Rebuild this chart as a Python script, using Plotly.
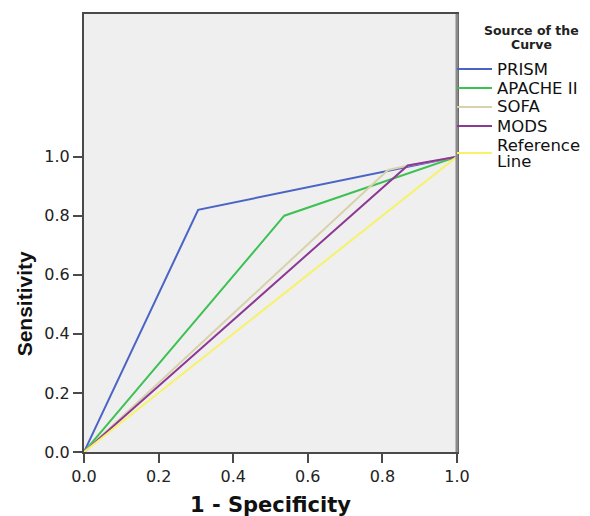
import plotly.graph_objects as go

# ROC curve points (1 - specificity, sensitivity)
curve_names = ["PRISM", "APACHE II", "SOFA", "MODS", "Reference Line"]
prism_x = [0.0, 0.306, 1.0]
prism_y = [0.0, 0.82, 1.0]
apache_x = [0.0, 0.537, 1.0]
apache_y = [0.0, 0.80, 1.0]
sofa_x = [0.0, 0.815, 0.87, 1.0]
sofa_y = [0.0, 0.955, 0.97, 1.0]
mods_x = [0.0, 0.868, 1.0]
mods_y = [0.0, 0.97, 1.0]
ref_x = [0.0, 1.0]
ref_y = [0.0, 1.0]
tick_vals = [0.0, 0.2, 0.4, 0.6, 0.8, 1.0]

colors = ["#4a64c6", "#3dc152", "#d8d2aa", "#8d3893", "#f6f26c"]
series = [(prism_x, prism_y), (apache_x, apache_y), (sofa_x, sofa_y),
          (mods_x, mods_y), (ref_x, ref_y)]

W, H = 590, 516
L, R, T, B = 84, 133, 14, 64
pw, ph = W - L - R, H - T - B


def px_x(px):
    return (px - L) / pw


def px_y(py):
    return (H - B - py) / ph


fig = go.Figure()
for name, (xs, ys), c in zip(curve_names, series, colors):
    fig.add_trace(go.Scatter(x=xs, y=ys, mode="lines", name=name,
                             line=dict(color=c, width=2), showlegend=False))

axis_font = dict(family="DejaVu Sans", size=16, color="#222")
common = dict(tickvals=tick_vals, tickformat=".1f", showgrid=False, zeroline=False,
              showline=True, mirror=True, linecolor="#4a4a4a", linewidth=2,
              ticks="outside", ticklen=9, tickwidth=2, tickcolor="#4a4a4a",
              tickfont=axis_font)
fig.update_xaxes(range=[0, 1], **common)
fig.update_yaxes(range=[0, 1.483], **common)

# lighter, heavier right frame edge as in the SPSS output
fig.add_shape(type="line", xref="paper", yref="paper", x0=1, x1=1, y0=0, y1=1,
              line=dict(color="#8a8a8a", width=3))

fig.add_annotation(text="<b>1 - Specificity</b>", xref="paper", yref="paper",
                   x=0.5, y=0, xanchor="center", yanchor="middle", yshift=-53,
                   showarrow=False,
                   font=dict(family="DejaVu Sans", size=21, color="#111"))
fig.add_annotation(text="<b>Sensitivity</b>", xref="paper", yref="y",
                   x=0, y=0.5, xanchor="center", yanchor="middle", xshift=-60,
                   textangle=-90, showarrow=False,
                   font=dict(family="Liberation Sans, Arial", size=21, color="#111"))

# legend drawn by hand to match the SPSS layout
title_font = dict(family="DejaVu Sans", size=12.5, color="#222")
for txt, py in [("<b>Source of the</b>", 30), ("<b>Curve</b>", 44)]:
    fig.add_annotation(text=txt, xref="paper", yref="paper", x=px_x(531), y=px_y(py),
                       xanchor="center", yanchor="middle", showarrow=False,
                       font=title_font)

leg_font = dict(family="DejaVu Sans", size=16.5, color="#111")
leg_rows = [69, 88, 107, 126, 153]
for name, c, py in zip(curve_names, colors, leg_rows):
    fig.add_shape(type="line", xref="paper", yref="paper",
                  x0=px_x(457), x1=px_x(492), y0=px_y(py), y1=px_y(py),
                  line=dict(color=c, width=2))
    parts = name.split(" ") if name == "Reference Line" else [name]
    offs = [-8, 8] if len(parts) == 2 else [0]
    for part, off in zip(parts, offs):
        fig.add_annotation(text=part, xref="paper", yref="paper",
                           x=px_x(495), y=px_y(py + off), xanchor="left",
                           yanchor="middle", showarrow=False, font=leg_font)

fig.update_layout(
    width=W, height=H,
    margin=dict(l=L, r=R, t=T, b=B),
    plot_bgcolor="#efefef", paper_bgcolor="white",
    showlegend=False,
)

fig.write_html("out.html", config={"displayModeBar": False},
               post_script="document.body.style.margin='0';")
